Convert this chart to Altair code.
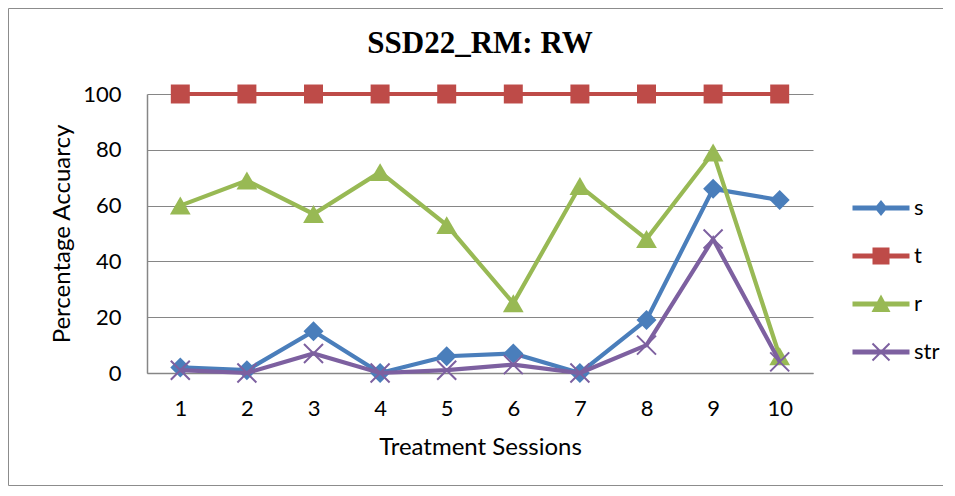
import altair as alt
import pandas as pd

# ---- data ----
sessions = [1, 2, 3, 4, 5, 6, 7, 8, 9, 10]
s_vals = [2, 1, 15, 0, 6, 7, 0, 19, 66, 62]
t_vals = [100, 100, 100, 100, 100, 100, 100, 100, 100, 100]
r_vals = [60, 69, 57, 72, 53, 25, 67, 48, 79, 6]
str_vals = [1, 0, 7, 0, 1, 3, 0, 10, 48, 4]

series_names = ["s", "t", "r", "str"]
series_colors = ["#4A7EBB", "#BE4B48", "#98B954", "#7D60A0"]
y_ticks = [0, 20, 40, 60, 80, 100]

# marker shapes in the plot
plot_shapes = {
    "s": "diamond",
    "t": "square",
    "r": "triangle-up",
    "str": "M-0.95,-0.95L0.95,0.95M-0.95,0.95L0.95,-0.95",
}
plot_sizes = {"s": 400, "t": 360, "r": 430, "str": 400}

# legend symbols: line segment with marker on top (filled paths)
bar = "M-2.85,-0.25H2.85V0.25H-2.85Z"
legend_paths = [
    bar + "M0,-0.8L0.65,0L0,0.8L-0.65,0Z",
    bar + "M-0.85,-0.85H0.85V0.85H-0.85Z",
    bar + "M0,-0.95L0.95,0.8L-0.95,0.8Z",
    bar + "M-0.78,-0.92L0.92,0.78L0.78,0.92L-0.92,-0.78Z"
          "M-0.92,0.78L0.78,-0.92L0.92,-0.78L-0.78,0.92Z",
]

rows = []
for name, vals in zip(series_names, [s_vals, t_vals, r_vals, str_vals]):
    for x, v in zip(sessions, vals):
        rows.append({"session": x, "value": v, "series": name})
df = pd.DataFrame(rows)

FONT = "Lato"
GRID = "#868686"

x_enc = alt.X(
    "session:Q",
    scale=alt.Scale(domain=[0.5, 10.5], nice=False, zero=False),
    axis=alt.Axis(
        values=sessions, title="Treatment Sessions", grid=False, ticks=False,
        tickSize=0, labelPadding=25, format="d",
        titleX=333, titleY=74, titleBaseline="middle", titleAlign="center",
        titleAnchor="middle",
    ),
)
y_enc = alt.Y(
    "value:Q",
    scale=alt.Scale(domain=[0, 100], nice=False),
    axis=alt.Axis(
        values=y_ticks, title="Percentage Accuarcy", grid=True, ticks=False,
        tickSize=0, labelPadding=26,
        titleX=-85, titleY=139.5, titleAngle=270, titleAlign="center",
        titleBaseline="middle",
    ),
)

base = alt.Chart(df)
layers = []

frame = alt.Chart(pd.DataFrame({"k": [0]})).mark_rect(
    fillOpacity=0, stroke="#8C8C8C", strokeWidth=1
).encode(
    x=alt.value(-138.5), x2=alt.value(900),
    y=alt.value(-85.5), y2=alt.value(391.5),
)
layers.append(frame)

for name, col in zip(series_names, series_colors):
    sub = base.transform_filter(alt.datum.series == name)
    layers.append(
        sub.mark_line(strokeWidth=4.2, color=col).encode(x=x_enc, y=y_enc)
    )
    if name == "str":
        pt = sub.mark_point(
            shape=plot_shapes[name], filled=False, strokeWidth=2,
            size=plot_sizes[name], opacity=1, color=col,
        )
    else:
        pt = sub.mark_point(
            shape=plot_shapes[name], filled=True, size=plot_sizes[name],
            opacity=1, strokeWidth=0, color=col,
        )
    layers.append(pt.encode(x=x_enc, y=y_enc))

leg = alt.Legend(
    title=None, orient="none", legendX=723, legendY=103, padding=0,
    symbolSize=400, symbolOpacity=1, symbolStrokeWidth=0,
    labelOffset=22, rowPadding=26, labelFont=FONT, labelFontSize=22,
    labelColor="black",
)
legend_layer = base.mark_point(filled=True, opacity=0).encode(
    x=x_enc, y=y_enc,
    color=alt.Color("series:N", scale=alt.Scale(domain=series_names, range=series_colors), legend=leg),
    shape=alt.Shape("series:N", scale=alt.Scale(domain=series_names, range=legend_paths), legend=leg),
)
layers.append(legend_layer)

chart = alt.layer(*layers).properties(
    width=666,
    height=279,
    padding={"left": 139, "top": 86, "right": 130, "bottom": 113},
    autosize=alt.AutoSizeParams(type="none"),
    background="white",
    title=alt.TitleParams(
        "SSD22_RM: RW", font="Liberation Serif", fontSize=31, fontWeight="bold",
        color="black", anchor="middle", frame="group", baseline="alphabetic",
        offset=-44, dy=32,
    ),
).configure_view(stroke=None).configure_axis(
    domainColor=GRID, gridColor=GRID, domainWidth=1.5, gridWidth=1.2,
    labelFont=FONT, labelFontSize=22, labelColor="black",
    titleFont=FONT, titleFontSize=24, titleFontWeight="normal", titleColor="black",
)

chart.save("out.html", embed_options={"renderer": "svg", "actions": False})
